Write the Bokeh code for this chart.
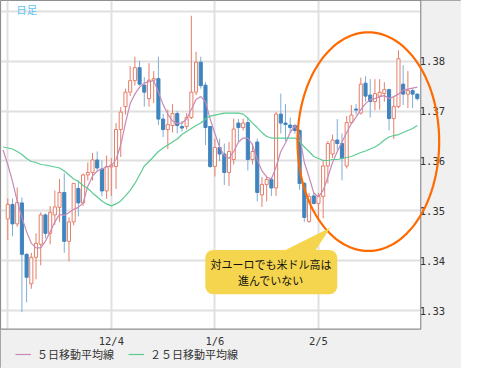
import numpy as np
import pandas as pd
from bokeh.plotting import figure
from bokeh.models import (Range1d, FixedTicker, ColumnDataSource, Legend, LegendItem,
                          Label, BoxAnnotation, PolyAnnotation, PrintfTickFormatter)
from bokeh.embed import file_html
from bokeh.resources import INLINE

# ---------------- data ----------------
holidays = ["2014-01-01"]
dates = [d for d in pd.bdate_range("2013-11-04", "2014-03-06") if str(d.date()) not in holidays]

open_ = [1.3484, 1.3513, 1.3474, 1.3516, 1.3413, 1.3354, 1.3407, 1.3433, 1.3492, 1.3455,
         1.3492, 1.3507, 1.3537, 1.3439, 1.3478, 1.3545, 1.3516, 1.3572, 1.3577, 1.3602,
         1.3584, 1.3540, 1.3588, 1.3589, 1.3663, 1.3709, 1.3738, 1.3761, 1.3787, 1.3752,
         1.3725, 1.3762, 1.3765, 1.3684, 1.3663, 1.3671, 1.3695, 1.3669, 1.3669, 1.3687,
         1.3738, 1.3798, 1.3752, 1.3669, 1.3589, 1.3627, 1.3614, 1.3577, 1.3603, 1.3676,
         1.3667, 1.3677, 1.3603, 1.3638, 1.3532, 1.3553, 1.3563, 1.3546, 1.3694, 1.3676,
         1.3672, 1.3671, 1.3661, 1.3555, 1.3479, 1.3530, 1.3515, 1.3529, 1.3590, 1.3614,
         1.3642, 1.3635, 1.3590, 1.3677, 1.3704, 1.3696, 1.3756, 1.3732, 1.3719, 1.3730,
         1.3735, 1.3743, 1.3685, 1.3709, 1.3754, 1.3734, 1.3741, 1.3734]
high = [1.3525, 1.3525, 1.3547, 1.3527, 1.3415, 1.3416, 1.3455, 1.3497, 1.3495, 1.3510,
        1.3541, 1.3564, 1.3575, 1.3487, 1.3556, 1.3561, 1.3575, 1.3597, 1.3616, 1.3619,
        1.3601, 1.3611, 1.3606, 1.3676, 1.3708, 1.3745, 1.3790, 1.3809, 1.3801, 1.3768,
        1.3796, 1.3780, 1.3809, 1.3695, 1.3703, 1.3714, 1.3700, 1.3680, 1.3696, 1.3891,
        1.3819, 1.3809, 1.3758, 1.3670, 1.3645, 1.3645, 1.3635, 1.3638, 1.3685, 1.3684,
        1.3685, 1.3687, 1.3635, 1.3645, 1.3568, 1.3568, 1.3568, 1.3698, 1.3735, 1.3714,
        1.3687, 1.3674, 1.3664, 1.3558, 1.3536, 1.3537, 1.3536, 1.3600, 1.3640, 1.3653,
        1.3684, 1.3655, 1.3690, 1.3712, 1.3714, 1.3767, 1.3770, 1.3764, 1.3764, 1.3764,
        1.3758, 1.3745, 1.3729, 1.3822, 1.3792, 1.3780, 1.3745, 1.3735]
low = [1.3442, 1.3449, 1.3468, 1.3297, 1.3317, 1.3344, 1.3363, 1.3391, 1.3445, 1.3433,
       1.3472, 1.3478, 1.3416, 1.3399, 1.3471, 1.3489, 1.3510, 1.3561, 1.3561, 1.3581,
       1.3529, 1.3524, 1.3530, 1.3544, 1.3608, 1.3693, 1.3730, 1.3751, 1.3751, 1.3709,
       1.3709, 1.3716, 1.3672, 1.3648, 1.3624, 1.3657, 1.3655, 1.3659, 1.3663, 1.3684,
       1.3732, 1.3745, 1.3632, 1.3586, 1.3569, 1.3600, 1.3552, 1.3550, 1.3593, 1.3638,
       1.3661, 1.3581, 1.3593, 1.3519, 1.3508, 1.3519, 1.3530, 1.3530, 1.3655, 1.3640,
       1.3658, 1.3655, 1.3542, 1.3478, 1.3476, 1.3513, 1.3485, 1.3485, 1.3555, 1.3606,
       1.3622, 1.3561, 1.3585, 1.3674, 1.3693, 1.3693, 1.3719, 1.3687, 1.3702, 1.3703,
       1.3719, 1.3661, 1.3644, 1.3706, 1.3712, 1.3706, 1.3706, 1.3721]
close = [1.3513, 1.3474, 1.3517, 1.3413, 1.3367, 1.3407, 1.3435, 1.3492, 1.3455, 1.3497,
         1.3508, 1.3537, 1.3439, 1.3478, 1.3555, 1.3516, 1.3572, 1.3577, 1.3602, 1.3586,
         1.3540, 1.3589, 1.3592, 1.3663, 1.3698, 1.3738, 1.3761, 1.3787, 1.3754, 1.3738,
         1.3762, 1.3765, 1.3684, 1.3663, 1.3673, 1.3695, 1.3671, 1.3666, 1.3687, 1.3738,
         1.3798, 1.3751, 1.3667, 1.3589, 1.3627, 1.3614, 1.3577, 1.3619, 1.3664, 1.3667,
         1.3676, 1.3603, 1.3619, 1.3537, 1.3553, 1.3563, 1.3546, 1.3694, 1.3676, 1.3673,
         1.3667, 1.3661, 1.3555, 1.3487, 1.3529, 1.3515, 1.3529, 1.3590, 1.3635, 1.3642,
         1.3635, 1.3605, 1.3677, 1.3692, 1.3702, 1.3754, 1.3730, 1.3719, 1.3735, 1.3738,
         1.3743, 1.3685, 1.3709, 1.3805, 1.3734, 1.3741, 1.3734, 1.3725]

# moving averages as drawn (first value belongs to the session before the first candle)
ma5 = [1.3622, 1.3593, 1.3559, 1.3520, 1.3487, 1.3458, 1.3435, 1.3426, 1.3426, 1.3439,
       1.3458, 1.3478, 1.3493, 1.3491, 1.3497, 1.3503, 1.3507, 1.3516, 1.3549, 1.3570,
       1.3580, 1.3584, 1.3588, 1.3590, 1.3603, 1.3632, 1.3676, 1.3715, 1.3734, 1.3748,
       1.3756, 1.3759, 1.3761, 1.3738, 1.3713, 1.3694, 1.3680, 1.3675, 1.3676, 1.3684,
       1.3703, 1.3723, 1.3729, 1.3719, 1.3684, 1.3655, 1.3628, 1.3611, 1.3605, 1.3619,
       1.3638, 1.3646, 1.3646, 1.3632, 1.3603, 1.3580, 1.3568, 1.3564, 1.3588, 1.3619,
       1.3636, 1.3657, 1.3671, 1.3651, 1.3597, 1.3568, 1.3536, 1.3528, 1.3541, 1.3568,
       1.3597, 1.3619, 1.3638, 1.3657, 1.3675, 1.3688, 1.3703, 1.3715, 1.3723, 1.3725,
       1.3729, 1.3731, 1.3725, 1.3729, 1.3734, 1.3742, 1.3744, 1.3746, 1.3748]
ma25 = [1.3628, 1.3626, 1.3624, 1.3619, 1.3613, 1.3605, 1.3599, 1.3597, 1.3593, 1.3592,
        1.3590, 1.3588, 1.3586, 1.3580, 1.3572, 1.3564, 1.3559, 1.3551, 1.3545, 1.3536,
        1.3528, 1.3520, 1.3514, 1.3510, 1.3514, 1.3520, 1.3530, 1.3541, 1.3555, 1.3572,
        1.3590, 1.3599, 1.3609, 1.3619, 1.3626, 1.3632, 1.3638, 1.3644, 1.3653, 1.3659,
        1.3665, 1.3671, 1.3676, 1.3684, 1.3690, 1.3692, 1.3694, 1.3696, 1.3696, 1.3696,
        1.3696, 1.3694, 1.3686, 1.3676, 1.3667, 1.3657, 1.3649, 1.3646, 1.3646, 1.3646,
        1.3646, 1.3646, 1.3646, 1.3640, 1.3628, 1.3619, 1.3609, 1.3605, 1.3601, 1.3601,
        1.3603, 1.3603, 1.3605, 1.3607, 1.3609, 1.3613, 1.3617, 1.3620, 1.3624, 1.3628,
        1.3634, 1.3642, 1.3648, 1.3651, 1.3653, 1.3657, 1.3661, 1.3665, 1.3671]

grid_dates = ["2013-11-04", "2013-12-04", "2014-01-06", "2014-02-05"]
grid_labels = ["", "12/4", "1/6", "2/5"]
y_ticks = [1.33, 1.34, 1.35, 1.36, 1.37, 1.38]
y_grid = [1.33, 1.34, 1.35, 1.36, 1.37, 1.38, 1.39]

legend_labels = ["５日移動平均線", "２５日移動平均線"]
note_lines = ["対ユーロでも米ドル高は", "進んでいない"]
title_text = "日足"

# ---------------- styles / layout ----------------
UP = "#e57f69"
DN_BODY = "#3f84bf"
DN_WICK = "#7eaed8"
MA5_C = "#c98ab6"
MA25_C = "#5ccb92"
GRID_C = "#e0e0e0"
PANEL = "#f0f0f0"
EDGE = "#8f8f8f"
MONO = "DejaVu Sans Mono"
JP = "Noto Sans CJK JP"

PLOT_RIGHT = 87.73      # right edge of the price area (x units)
PLOT_BOTTOM = 1.32633   # bottom edge of the price area (price units)

date_index = {str(d.date()): i for i, d in enumerate(dates)}
xs = np.arange(len(dates))
df = pd.DataFrame(dict(x=xs, o=open_, h=high, l=low, c=close))
up = ColumnDataSource(df[df.c >= df.o])
dn = ColumnDataSource(df[df.c < df.o])
ma_x = np.arange(-1, len(dates))

p = figure(width=461, height=368, output_backend="svg", toolbar_location=None,
           x_range=Range1d(-1.546, 96.39), y_range=Range1d(1.31842, 1.39216),
           y_axis_location="right", min_border_left=0, min_border_right=0,
           min_border_top=0, min_border_bottom=0)
p.background_fill_color = "white"
p.border_fill_color = PANEL
p.outline_line_color = EDGE
p.outline_line_width = 1

tick_idx = [date_index[d] for d in grid_dates]
p.xgrid.ticker = FixedTicker(ticks=tick_idx)
p.ygrid.ticker = FixedTicker(ticks=y_grid)
p.xgrid.grid_line_color = GRID_C
p.ygrid.grid_line_color = GRID_C
p.xgrid.grid_line_width = 2
p.ygrid.grid_line_width = 2

# grey side panels (cover grid overflow), then the price-area border
p.add_layout(BoxAnnotation(left=PLOT_RIGHT, fill_color=PANEL, fill_alpha=1,
                           line_color=None, level="underlay"))
p.add_layout(BoxAnnotation(top=PLOT_BOTTOM, fill_color=PANEL, fill_alpha=1,
                           line_color=None, level="underlay"))
p.add_layout(BoxAnnotation(right=PLOT_RIGHT, bottom=PLOT_BOTTOM, fill_alpha=0,
                           line_color=EDGE, line_alpha=1, line_width=1.2, level="underlay"))

p.xaxis.fixed_location = PLOT_BOTTOM
p.yaxis.fixed_location = PLOT_RIGHT
p.xaxis.ticker = FixedTicker(ticks=tick_idx[1:])
p.xaxis.major_label_overrides = {i: lab for i, lab in zip(tick_idx, grid_labels)}
p.yaxis.ticker = FixedTicker(ticks=y_ticks)
p.yaxis.formatter = PrintfTickFormatter(format="%.2f")
for ax in (p.xaxis, p.yaxis):
    ax.axis_line_color = None
    ax.major_tick_line_color = None
    ax.minor_tick_line_color = None
    ax.major_label_text_font = MONO
    ax.major_label_text_font_size = "10.5px"
    ax.major_label_text_color = "#333333"
p.xaxis.major_label_standoff = 0
p.yaxis.major_label_standoff = -7

# candles
p.segment(x0="x", y0="h", x1="x", y1="l", source=up, line_color=UP, line_width=1)
p.segment(x0="x", y0="h", x1="x", y1="l", source=dn, line_color=DN_WICK, line_width=1)
p.vbar(x="x", width=0.66, top="c", bottom="o", source=up,
       fill_color="white", line_color=UP, line_width=1)
p.vbar(x="x", width=0.66, top="o", bottom="c", source=dn,
       fill_color=DN_BODY, line_color=DN_BODY, line_width=1)

# moving averages
r5 = p.line(ma_x, ma5, line_color=MA5_C, line_width=1.2)
r25 = p.line(ma_x, ma25, line_color=MA25_C, line_width=1.2)

# orange ellipse highlight
t = np.linspace(0, 2 * np.pi, 121)
cx, cy, rx, ry = 76.6, 1.36388, 15.05, 0.02191
p.add_layout(PolyAnnotation(xs=list(cx + rx * np.cos(t)), ys=list(cy + ry * np.sin(t)),
                            fill_alpha=0, line_color="#ff6a00", line_alpha=1, line_width=2.2))

# yellow callout
CALL = "#f6d54e"
p.add_layout(BoxAnnotation(left=41.96, right=70.0, top=1.34216, bottom=1.33328,
                           fill_color=CALL, fill_alpha=1, line_color=None, border_radius=8))
p.add_layout(PolyAnnotation(xs=[58.45, 68.56, 65.26], ys=[1.3419, 1.34668, 1.3419],
                            fill_color=CALL, fill_alpha=1, line_color=None))
p.add_layout(Label(x=55.9, y=1.3393, text=note_lines[0], text_font=JP, text_font_size="11px",
                   text_color="#111111", text_align="center", text_baseline="middle"))
p.add_layout(Label(x=55.9, y=1.3362, text=note_lines[1], text_font=JP, text_font_size="11px",
                   text_color="#111111", text_align="center", text_baseline="middle"))

# title mark
p.add_layout(Label(x=1.8, y=1.3919, text=title_text, text_font=JP, text_font_size="10.5px",
                   text_color="#5cc2ee", text_baseline="top", text_align="left"))

legend = Legend(items=[LegendItem(label=legend_labels[0], renderers=[r5]),
                       LegendItem(label=legend_labels[1], renderers=[r25])],
                orientation="horizontal", location=(15, 6))
legend.margin = 0
legend.padding = 2
legend.spacing = 14
legend.glyph_width = 16
legend.glyph_height = 14
legend.label_standoff = 6
legend.label_height = 14
legend.label_text_font = JP
legend.label_text_font_size = "11px"
legend.label_text_color = "#333333"
legend.background_fill_alpha = 0
legend.border_line_color = None
p.add_layout(legend, "center")

open("out.html", "w").write(file_html(p, INLINE))
